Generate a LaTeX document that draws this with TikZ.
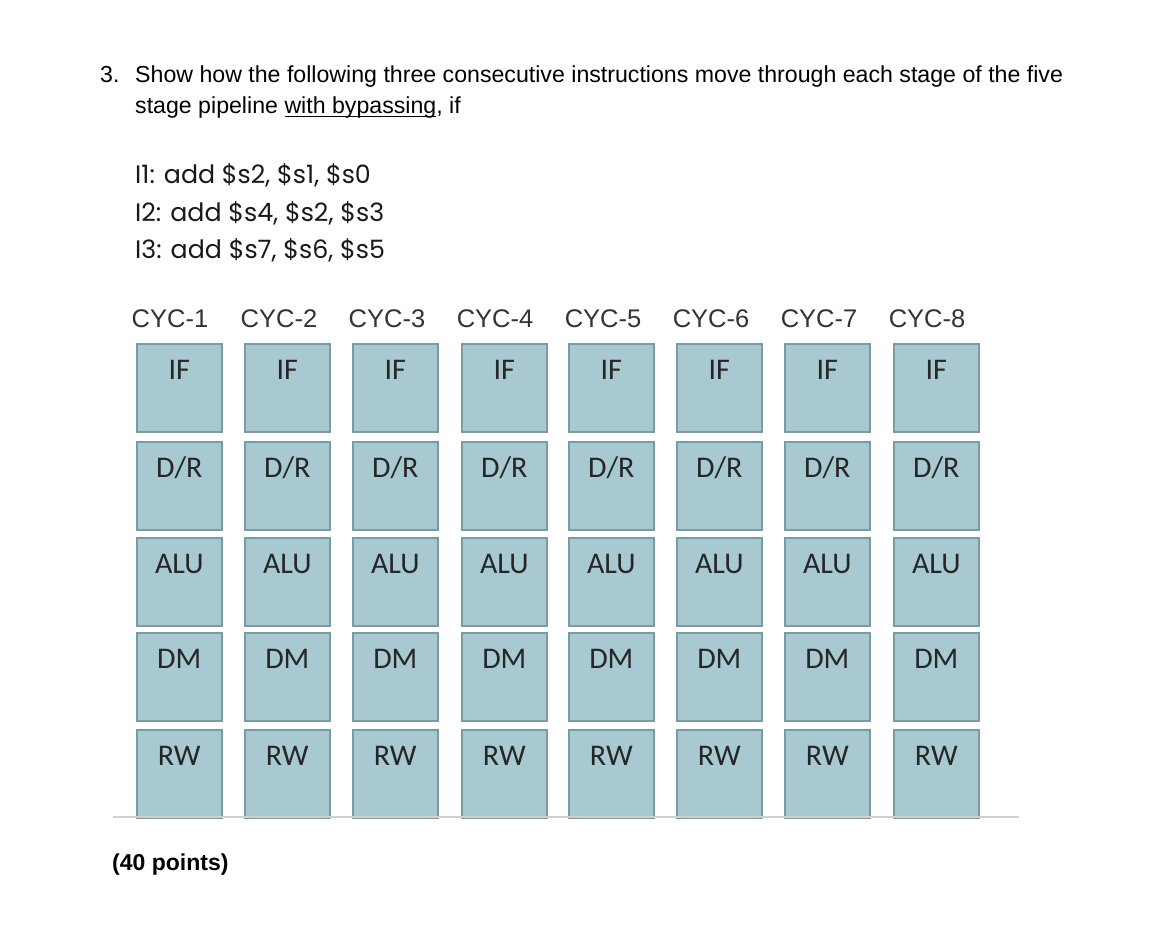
\documentclass[tikz,border=0pt]{standalone}
\usepackage{fontspec}
\setmainfont{Liberation Sans}
\newfontfamily\instrfont{Poppins}
\newfontfamily\stagefont{Carlito}
\newcommand{\undertext}[1]{\setbox0\hbox{#1}\rlap{\rule[-4pt]{\wd0}{1.5pt}}\box0}
\definecolor{boxfill}{HTML}{A8C9D2}
\definecolor{boxedge}{HTML}{7A9AA4}
\definecolor{baseline}{HTML}{D0D0D0}
\begin{document}
\begin{tikzpicture}[x=1pt,y=-1pt]

    \tikzset{
      stagebox/.style={
        draw=boxedge,
        fill=boxfill,
        line width=1.6pt,
        anchor=north west,
        inner sep=0pt,
        minimum width=85pt,
        text height=36pt,
        text depth=52pt,
        text=black!85,
        font=\stagefont\fontsize{30}{36}\selectfont,
      },
      cyclabel/.style={
        anchor=base,
        inner sep=0pt,
        text=black!80,
        font=\fontsize{25.5}{30}\selectfont,
      },
      question/.style={
        anchor=base west,
        inner sep=0pt,
        font=\fontsize{23.15}{28}\selectfont,
      },
      instr/.style={
        anchor=base west,
        inner sep=0pt,
        text=black!90,
        font=\instrfont\fontsize{25.3}{30}\selectfont,
      },
    }
    \useasboundingbox[fill=white] (0,0) rectangle (1174,951);

    % question
    \node[question] (num) at (100,82) {3.};
    \node[question] (qline1) at (135,82) {Show how the following three consecutive instructions move through each stage of the five};
    \node[question] (qline2) at (135,113) {stage pipeline \undertext{with bypassing}, if};

    % instructions
    \node[instr] (i1) at (135,183) {I1: add \$s2, \$s1, \$s0};
    \node[instr] (i2) at (135,221) {I2: add \$s4, \$s2, \$s3};
    \node[instr] (i3) at (135,258) {I3: add \$s7, \$s6, \$s5};

    % cycle labels
    \node[cyclabel] (cyc1) at (170,327) {CYC-1};
    \node[cyclabel] (cyc2) at (279,327) {CYC-2};
    \node[cyclabel] (cyc3) at (387,327) {CYC-3};
    \node[cyclabel] (cyc4) at (495,327) {CYC-4};
    \node[cyclabel] (cyc5) at (603,327) {CYC-5};
    \node[cyclabel] (cyc6) at (711,327) {CYC-6};
    \node[cyclabel] (cyc7) at (819,327) {CYC-7};
    \node[cyclabel] (cyc8) at (927,327) {CYC-8};

    % stages
    \node[stagebox] (if1) at (136,343) {IF}; \node[stagebox] (if2) at (244,343) {IF}; \node[stagebox] (if3) at (352,343) {IF}; \node[stagebox] (if4) at (461,343) {IF};
    \node[stagebox] (if5) at (568,343) {IF}; \node[stagebox] (if6) at (676,343) {IF}; \node[stagebox] (if7) at (784,343) {IF}; \node[stagebox] (if8) at (893,343) {IF};
    \node[stagebox] (dr1) at (136,441) {D/R}; \node[stagebox] (dr2) at (244,441) {D/R}; \node[stagebox] (dr3) at (352,441) {D/R}; \node[stagebox] (dr4) at (461,441) {D/R};
    \node[stagebox] (dr5) at (568,441) {D/R}; \node[stagebox] (dr6) at (676,441) {D/R}; \node[stagebox] (dr7) at (784,441) {D/R}; \node[stagebox] (dr8) at (893,441) {D/R};
    \node[stagebox] (alu1) at (136,537) {ALU}; \node[stagebox] (alu2) at (244,537) {ALU}; \node[stagebox] (alu3) at (352,537) {ALU}; \node[stagebox] (alu4) at (461,537) {ALU};
    \node[stagebox] (alu5) at (568,537) {ALU}; \node[stagebox] (alu6) at (676,537) {ALU}; \node[stagebox] (alu7) at (784,537) {ALU}; \node[stagebox] (alu8) at (893,537) {ALU};
    \node[stagebox] (dm1) at (136,632) {DM}; \node[stagebox] (dm2) at (244,632) {DM}; \node[stagebox] (dm3) at (352,632) {DM}; \node[stagebox] (dm4) at (461,632) {DM};
    \node[stagebox] (dm5) at (568,632) {DM}; \node[stagebox] (dm6) at (676,632) {DM}; \node[stagebox] (dm7) at (784,632) {DM}; \node[stagebox] (dm8) at (893,632) {DM};
    \node[stagebox] (rw1) at (136,729) {RW}; \node[stagebox] (rw2) at (244,729) {RW}; \node[stagebox] (rw3) at (352,729) {RW}; \node[stagebox] (rw4) at (461,729) {RW};
    \node[stagebox] (rw5) at (568,729) {RW}; \node[stagebox] (rw6) at (676,729) {RW}; \node[stagebox] (rw7) at (784,729) {RW}; \node[stagebox] (rw8) at (893,729) {RW};

    % base line
    \coordinate (baseL) at (113,817);
    \coordinate (baseR) at (1019,817);
    \draw[color=baseline,line width=2pt] (baseL)--(baseR);

    \node[anchor=base west,inner sep=0pt,font=\bfseries\fontsize{23}{28}\selectfont] (points) at (112,870) {(40 points)};

\end{tikzpicture}
\end{document}
